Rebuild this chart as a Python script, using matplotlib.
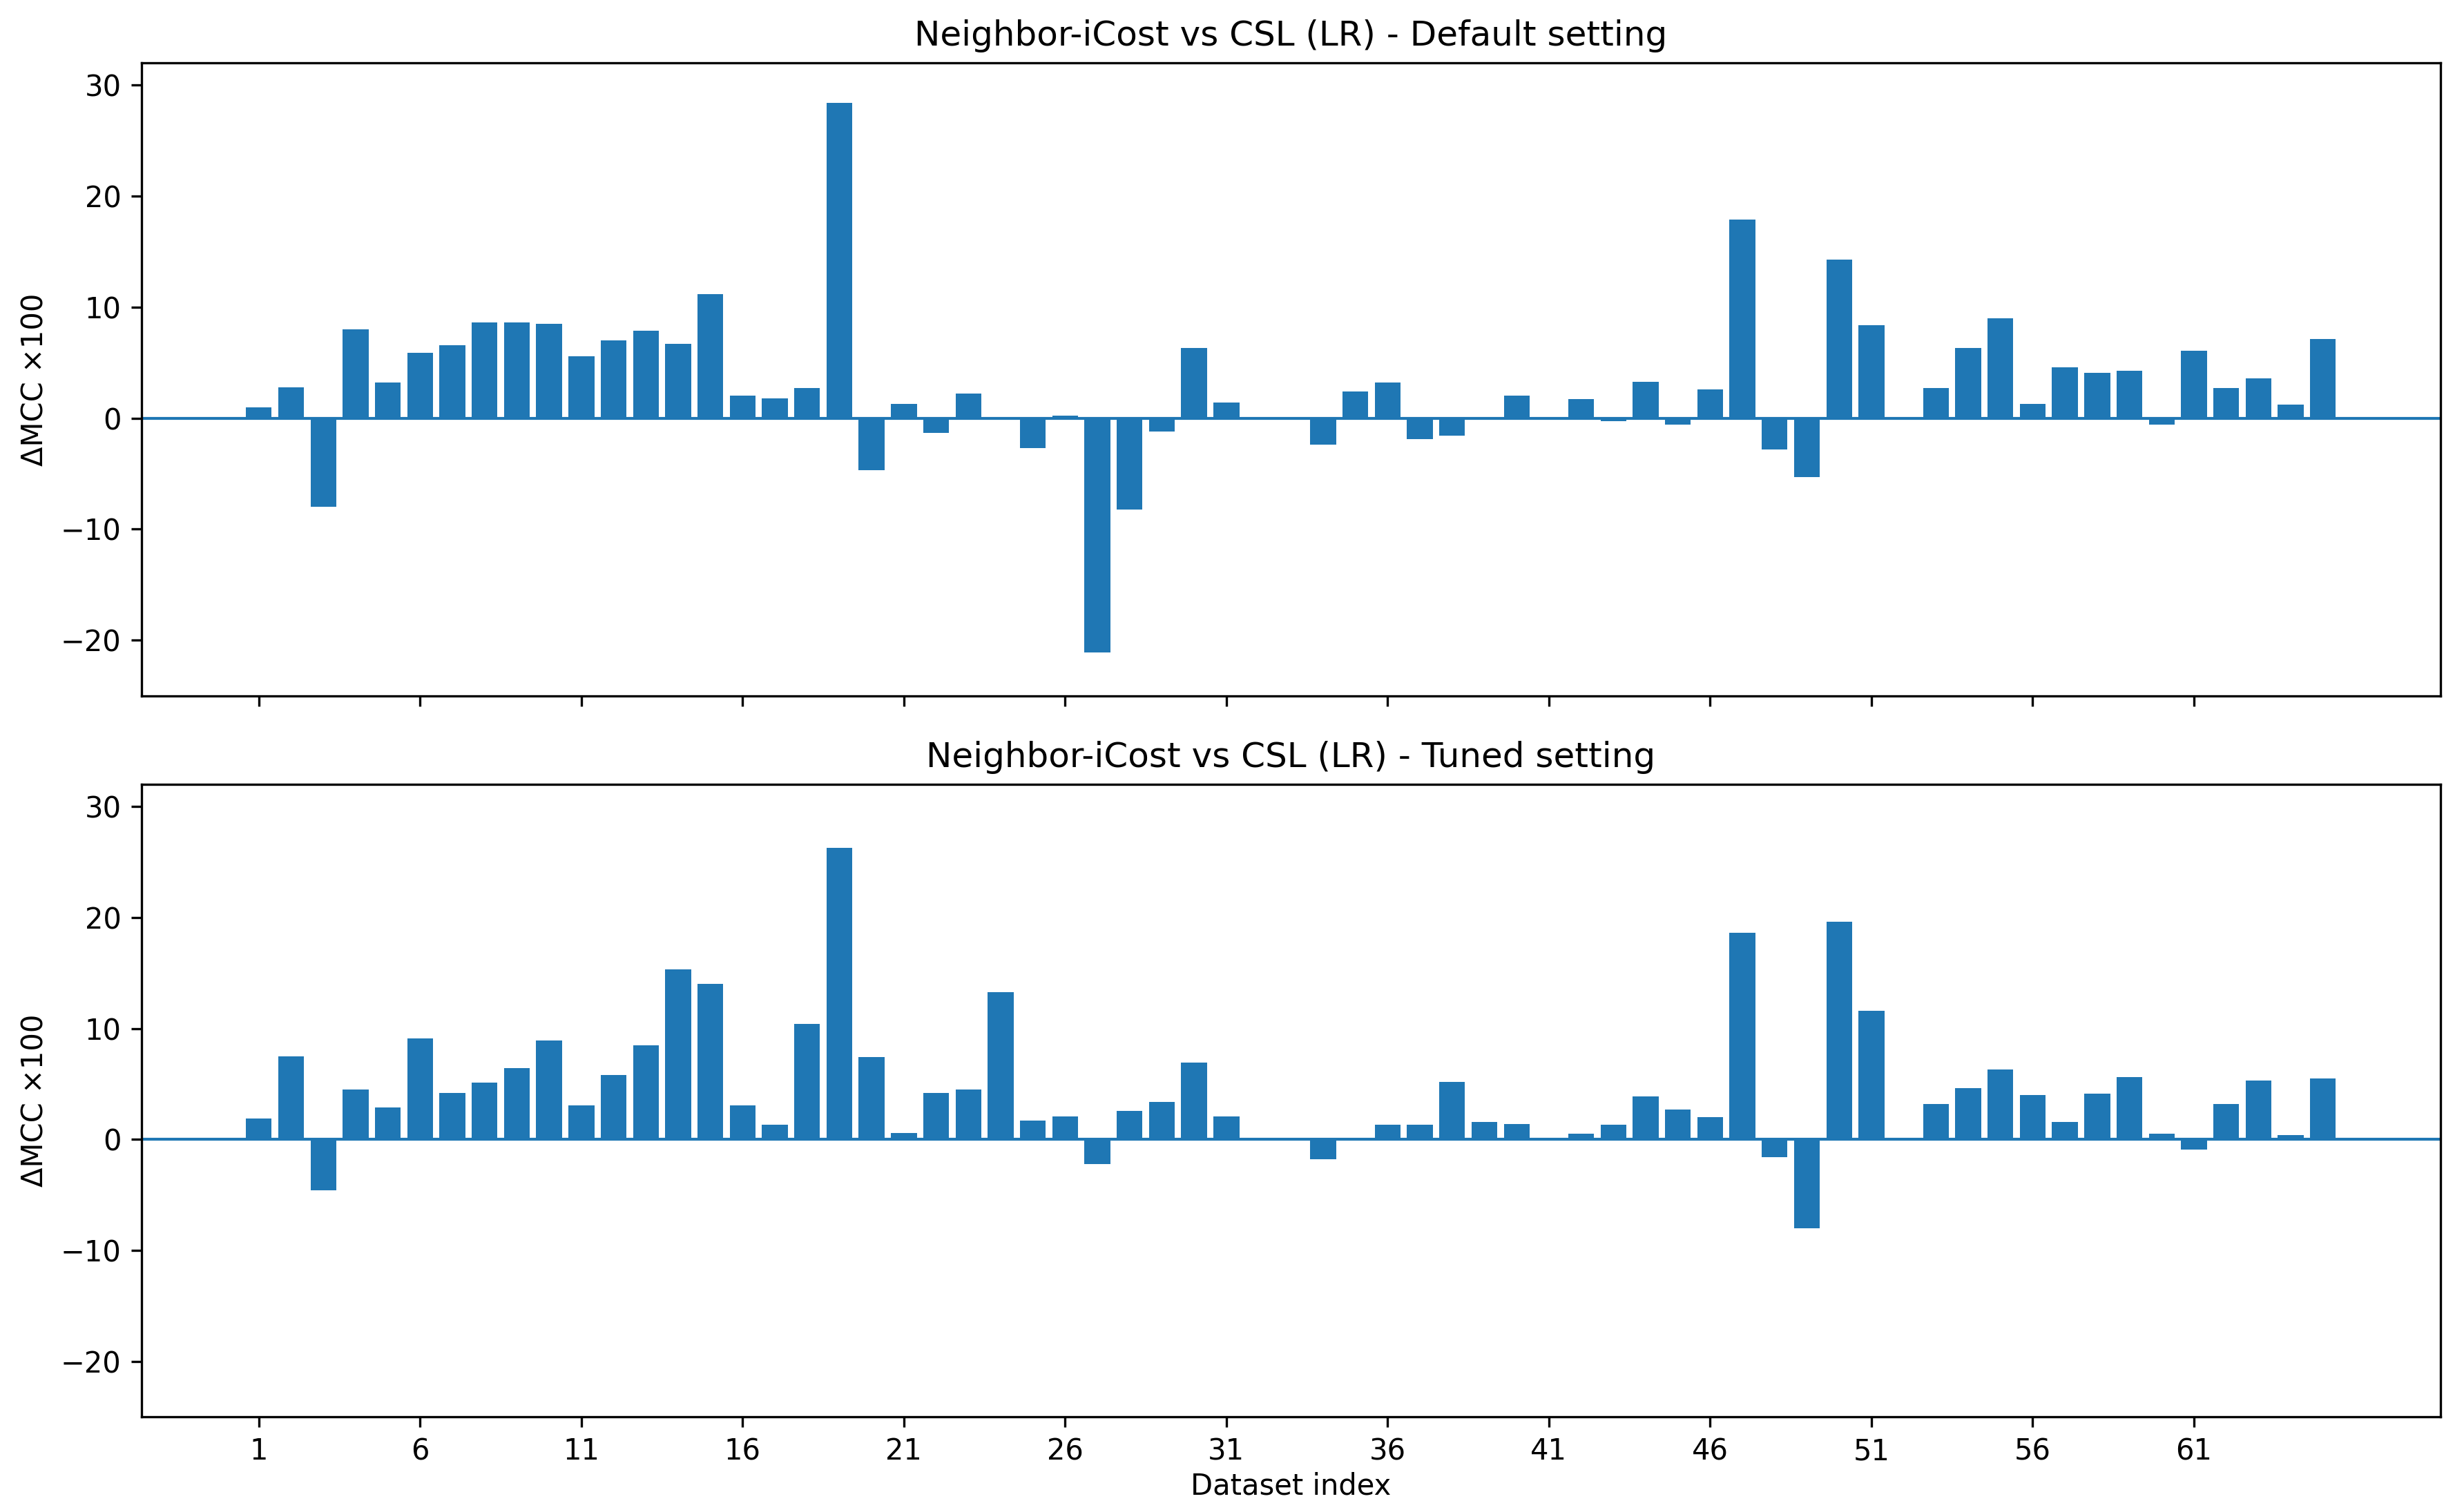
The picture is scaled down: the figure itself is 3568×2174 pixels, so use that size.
import matplotlib
matplotlib.use("Agg")
import matplotlib.pyplot as plt
import numpy as np

dataset_index = list(range(1, 66))

default_delta = [
    1.0, 2.8, -8.0, 8.0, 3.2, 5.9, 6.6, 8.6, 8.6, 8.5,
    5.6, 7.0, 7.9, 6.7, 11.2, 2.0, 1.8, 2.7, 28.4, -4.7,
    1.3, -1.3, 2.2, 0.0, -2.7, 0.2, -21.1, -8.2, -1.2, 6.3,
    1.4, 0.0, 0.0, -2.4, 2.4, 3.2, -1.9, -1.6, 0.0, 2.0,
    0.0, 1.7, -0.3, 3.3, -0.6, 2.6, 17.9, -2.8, -5.3, 14.3,
    8.4, 0.0, 2.7, 6.3, 9.0, 1.3, 4.6, 4.1, 4.3, -0.6,
    6.1, 2.7, 3.6, 1.2, 7.1,
]

tuned_delta = [
    1.9, 7.5, -4.6, 4.5, 2.9, 9.1, 4.2, 5.1, 6.4, 8.9,
    3.1, 5.8, 8.5, 15.3, 14.0, 3.1, 1.3, 10.4, 26.3, 7.4,
    0.6, 4.2, 4.5, 13.3, 1.7, 2.1, -2.2, 2.6, 3.4, 6.9,
    2.1, 0.0, 0.0, -1.8, 0.0, 1.3, 1.3, 5.2, 1.6, 1.4,
    0.0, 0.5, 1.3, 3.9, 2.7, 2.0, 18.6, -1.6, -8.0, 19.6,
    11.6, 0.0, 3.2, 4.6, 6.3, 4.0, 1.6, 4.1, 5.6, 0.5,
    -0.9, 3.2, 5.3, 0.4, 5.5,
]

titles = [
    "Neighbor-iCost vs CSL (LR) - Default setting",
    "Neighbor-iCost vs CSL (LR) - Tuned setting",
]
xtick_values = list(range(1, 66, 5))

fig = plt.figure(figsize=(3568 / 300, 2174 / 300), dpi=300)
left, right = 0.0574, 0.9904
ax1 = fig.add_axes([left, 0.5365, right - left, 0.9581 - 0.5365])
ax2 = fig.add_axes([left, 0.0560, right - left, 0.4775 - 0.0560], sharex=ax1, sharey=ax1)

for ax, vals, title in zip([ax1, ax2], [default_delta, tuned_delta], titles):
    ax.bar(dataset_index, vals, color="C0", width=0.8)
    ax.axhline(0, color="C0", linewidth=1)
    ax.set_title(title, fontsize=12)
    ax.set_ylabel("ΔMCC ×100")
    ax.set_xticks(xtick_values)

ax1.set_ylim(-25, 32)
ax1.tick_params(labelbottom=False)
ax2.set_xlabel("Dataset index", labelpad=2)

fig.savefig("out.png", dpi=300)
